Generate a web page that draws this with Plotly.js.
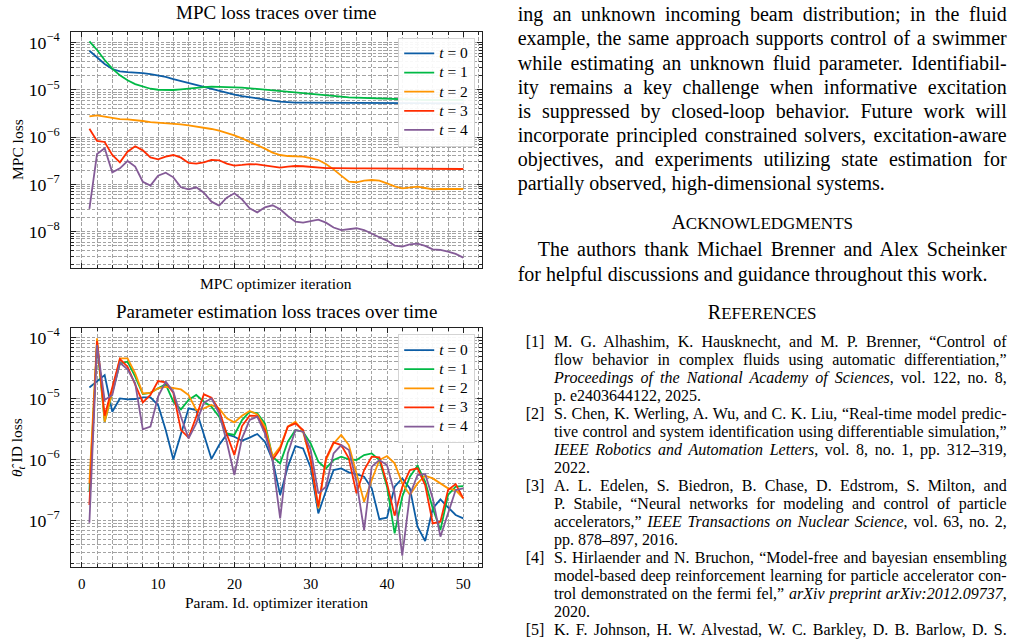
<!DOCTYPE html>
<html>
<head>
<meta charset="utf-8">
<script src="https://cdn.plot.ly/plotly-3.0.1.min.js"></script>
<style>
  html, body { margin: 0; padding: 0; background: #fff; width: 1014px; height: 642px; overflow: hidden; }
  #plots { position: absolute; left: 0; top: 0; width: 505px; height: 642px; }
  .txt { position: absolute; font-family: 'Liberation Serif', 'Times New Roman', serif; color: #000; white-space: nowrap; }
  .body { left: 517.7px; width: 489px; font-size: 20px; line-height: 24px; }
  .indent { left: 537.7px; width: 469px; }
  .head { left: 517.7px; width: 489px; text-align: center; font-size: 20px; line-height: 24px; }
  .head .sc { font-size: 17px; }
  .ref { left: 554px; width: 452.7px; font-size: 16px; line-height: 18px; }
  .lab { left: 525.7px; font-size: 16px; line-height: 18px; }
</style>
</head>
<body>
<div id="plots"></div>

<!-- closing paragraph of the conclusion -->
<div class="txt body j" style="top:2.4px"><span class="c">ing an unknown incoming beam distribution; in the fluid</span></div>
<div class="txt body j" style="top:26.45px"><span class="c">example, the same approach supports control of a swimmer</span></div>
<div class="txt body j" style="top:50.5px"><span class="c">while estimating an unknown fluid parameter. Identifiabil-</span></div>
<div class="txt body j" style="top:74.55px"><span class="c">ity remains a key challenge when informative excitation</span></div>
<div class="txt body j" style="top:98.6px"><span class="c">is suppressed by closed-loop behavior. Future work will</span></div>
<div class="txt body j" style="top:122.65px"><span class="c">incorporate principled constrained solvers, excitation-aware</span></div>
<div class="txt body j" style="top:146.7px"><span class="c">objectives, and experiments utilizing state estimation for</span></div>
<div class="txt body" style="top:170.75px"><span class="c">partially observed, high-dimensional systems.</span></div>

<div class="txt head" style="top:209.5px">A<span class="sc">CKNOWLEDGMENTS</span></div>
<div class="txt body indent j" style="top:237.4px"><span class="c">The authors thank Michael Brenner and Alex Scheinker</span></div>
<div class="txt body" style="top:261.7px"><span class="c">for helpful discussions and guidance throughout this work.</span></div>

<div class="txt head" style="top:300.2px">R<span class="sc">EFERENCES</span></div>

<div class="txt lab" style="top:333.2px">[1]</div>
<div class="txt ref j" style="top:333.2px"><span class="c">M. G. Alhashim, K. Hausknecht, and M. P. Brenner, “Control of</span></div>
<div class="txt ref j" style="top:351.18px"><span class="c">flow behavior in complex fluids using automatic differentiation,”</span></div>
<div class="txt ref j" style="top:369.16px"><span class="c"><i>Proceedings of the National Academy of Sciences</i>, vol. 122, no. 8,</span></div>
<div class="txt ref" style="top:387.14px"><span class="c">p. e2403644122, 2025.</span></div>

<div class="txt lab" style="top:405.12px">[2]</div>
<div class="txt ref j" style="top:405.12px"><span class="c">S. Chen, K. Werling, A. Wu, and C. K. Liu, “Real-time model predic-</span></div>
<div class="txt ref j" style="top:423.1px"><span class="c">tive control and system identification using differentiable simulation,”</span></div>
<div class="txt ref j" style="top:441.08px"><span class="c"><i>IEEE Robotics and Automation Letters</i>, vol. 8, no. 1, pp. 312–319,</span></div>
<div class="txt ref" style="top:459.06px"><span class="c">2022.</span></div>

<div class="txt lab" style="top:477.04px">[3]</div>
<div class="txt ref j" style="top:477.04px"><span class="c">A. L. Edelen, S. Biedron, B. Chase, D. Edstrom, S. Milton, and</span></div>
<div class="txt ref j" style="top:495.02px"><span class="c">P. Stabile, “Neural networks for modeling and control of particle</span></div>
<div class="txt ref j" style="top:513px"><span class="c">accelerators,” <i>IEEE Transactions on Nuclear Science</i>, vol. 63, no. 2,</span></div>
<div class="txt ref" style="top:530.98px"><span class="c">pp. 878–897, 2016.</span></div>

<div class="txt lab" style="top:548.96px">[4]</div>
<div class="txt ref j" style="top:548.96px"><span class="c">S. Hirlaender and N. Bruchon, “Model-free and bayesian ensembling</span></div>
<div class="txt ref j" style="top:566.94px"><span class="c">model-based deep reinforcement learning for particle accelerator con-</span></div>
<div class="txt ref j" style="top:584.92px"><span class="c">trol demonstrated on the fermi fel,” <i>arXiv preprint arXiv:2012.09737</i>,</span></div>
<div class="txt ref" style="top:602.9px"><span class="c">2020.</span></div>

<div class="txt lab" style="top:620.88px">[5]</div>
<div class="txt ref j" style="top:620.88px"><span class="c">K. F. Johnson, H. W. Alvestad, W. C. Barkley, D. B. Barlow, D. S.</span></div>

<script>
// optimizer iteration index shared by both panels
const iterations = [1,2,3,4,5,6,7,8,9,10,11,12,13,14,15,16,17,18,19,20,21,22,23,24,25,
                    26,27,28,29,30,31,32,33,34,35,36,37,38,39,40,41,42,43,44,45,46,47,48,49,50];

// MPC loss per optimizer iteration, one array per time step
const mpcT0 = [6.77e-5,4.90e-5,3.54e-5,2.77e-5,2.47e-5,2.39e-5,2.36e-5,2.28e-5,2.17e-5,2.04e-5,
               1.88e-5,1.70e-5,1.55e-5,1.40e-5,1.27e-5,1.15e-5,1.05e-5,9.48e-6,8.61e-6,7.93e-6,
               7.43e-6,6.97e-6,6.53e-6,6.22e-6,5.92e-6,5.64e-6,5.46e-6,5.37e-6,5.37e-6,5.37e-6,
               5.37e-6,5.37e-6,5.28e-6,5.28e-6,5.28e-6,5.28e-6,5.28e-6,5.28e-6,5.28e-6,5.28e-6,
               5.20e-6,5.20e-6,5.20e-6,5.20e-6,5.20e-6,5.20e-6,5.20e-6,5.20e-6,5.20e-6,5.20e-6];
const mpcT1 = [1.07e-4,7.00e-5,4.30e-5,2.82e-5,2.04e-5,1.60e-5,1.33e-5,1.17e-5,1.06e-5,1.01e-5,
               9.96e-6,9.96e-6,1.03e-5,1.08e-5,1.12e-5,1.15e-5,1.17e-5,1.17e-5,1.15e-5,1.13e-5,
               1.12e-5,1.08e-5,1.05e-5,1.01e-5,9.80e-6,9.48e-6,9.18e-6,8.89e-6,8.61e-6,8.20e-6,
               7.93e-6,7.68e-6,7.43e-6,7.19e-6,6.97e-6,6.86e-6,6.75e-6,6.64e-6,6.53e-6,6.43e-6,
               6.32e-6,6.32e-6,6.22e-6,6.22e-6,6.12e-6,6.12e-6,6.12e-6,6.12e-6,6.12e-6,6.12e-6];
const mpcT2 = [2.76e-6,2.90e-6,2.72e-6,2.55e-6,2.42e-6,2.38e-6,2.31e-6,2.20e-6,2.09e-6,2.03e-6,
               2.00e-6,1.96e-6,1.87e-6,1.78e-6,1.69e-6,1.59e-6,1.49e-6,1.37e-6,1.24e-6,1.09e-6,
               9.44e-7,8.03e-7,6.83e-7,5.71e-7,4.70e-7,4.19e-7,3.99e-7,3.93e-7,3.86e-7,3.62e-7,
               3.29e-7,2.70e-7,2.08e-7,1.53e-7,1.14e-7,1.11e-7,1.20e-7,1.24e-7,1.20e-7,1.05e-7,
               9.10e-8,8.26e-8,8.67e-8,8.96e-8,8.39e-8,7.87e-8,8.00e-8,8.00e-8,8.00e-8,8.00e-8];
const mpcT3 = [1.51e-6,8.30e-7,7.91e-7,4.19e-7,2.93e-7,4.93e-7,6.40e-7,5.26e-7,3.74e-7,3.40e-7,
               3.86e-7,4.19e-7,3.68e-7,2.84e-7,2.75e-7,2.93e-7,3.29e-7,3.24e-7,2.75e-7,2.49e-7,
               2.58e-7,2.70e-7,2.66e-7,2.54e-7,2.34e-7,2.26e-7,2.38e-7,2.45e-7,2.42e-7,2.34e-7,
               2.26e-7,2.22e-7,2.22e-7,2.19e-7,2.19e-7,2.19e-7,2.19e-7,2.19e-7,2.15e-7,2.15e-7,
               2.15e-7,2.15e-7,2.12e-7,2.12e-7,2.12e-7,2.12e-7,2.12e-7,2.12e-7,2.12e-7,2.12e-7];
const mpcT4 = [3.02e-8,4.40e-7,5.81e-7,1.80e-7,2.19e-7,3.13e-7,2.38e-7,1.14e-7,9.42e-8,1.53e-7,
               1.77e-7,1.41e-7,8.67e-8,7.87e-8,8.67e-8,6.68e-8,4.31e-8,3.55e-8,5.25e-8,6.47e-8,
               4.83e-8,3.12e-8,2.56e-8,3.27e-8,3.61e-8,2.97e-8,2.15e-8,1.63e-8,1.55e-8,1.68e-8,
               1.79e-8,1.55e-8,1.22e-8,1.08e-8,1.12e-8,1.18e-8,1.08e-8,8.95e-9,7.59e-9,6.46e-9,
               5.06e-9,4.82e-9,5.40e-9,5.57e-9,4.98e-9,4.23e-9,4.09e-9,3.77e-9,3.37e-9,2.82e-9];

// parameter identification loss per optimizer iteration, one array per time step
const idT0 = [1.53e-5,1.95e-5,2.44e-5,6.12e-6,1.01e-5,9.75e-6,9.88e-6,1.05e-5,1.05e-5,7.87e-6,
              3.06e-6,1.01e-6,2.70e-6,6.94e-6,6.52e-6,2.70e-6,1.03e-6,1.74e-6,2.60e-6,2.38e-6,
              2.05e-6,2.30e-6,2.64e-6,1.97e-6,9.88e-7,2.64e-7,7.68e-7,1.67e-6,1.53e-6,7.40e-7,
              1.32e-7,3.06e-7,6.77e-7,7.21e-7,6.20e-7,5.82e-7,5.26e-7,3.39e-7,1.06e-7,1.12e-7,
              3.61e-7,4.94e-7,3.39e-7,7.97e-8,4.65e-8,1.59e-7,2.24e-7,1.66e-7,1.24e-7,1.09e-7];
const idT1 = [3.00e-7,8.07e-5,4.20e-6,1.22e-5,3.79e-5,4.04e-5,2.30e-5,1.19e-5,1.25e-5,1.48e-5,
              1.72e-5,8.93e-6,6.68e-6,9.51e-6,1.15e-5,8.93e-6,7.40e-6,5.07e-6,2.70e-6,2.54e-6,
              4.47e-6,6.12e-6,5.75e-6,3.94e-6,1.12e-6,8.71e-7,1.97e-6,3.06e-6,2.88e-6,1.85e-6,
              9.28e-7,7.21e-7,9.88e-7,1.12e-6,1.01e-6,9.88e-7,1.19e-6,1.27e-6,9.88e-7,3.61e-7,
              6.20e-8,2.47e-7,5.26e-7,7.97e-7,4.36e-7,1.59e-7,7.03e-8,2.64e-7,3.61e-7,3.70e-7];
const idT2 = [4.09e-7,9.75e-5,4.20e-6,1.30e-5,4.58e-5,4.58e-5,2.60e-5,1.22e-5,1.25e-5,1.48e-5,
              1.57e-5,1.48e-5,1.42e-5,1.15e-5,6.52e-6,6.94e-6,7.87e-6,6.94e-6,4.76e-6,4.09e-6,
              5.26e-6,6.28e-6,5.54e-6,3.48e-6,1.12e-6,1.63e-6,3.48e-6,4.20e-6,2.88e-6,9.88e-7,
              1.59e-7,9.88e-7,1.85e-6,2.54e-6,1.74e-6,5.97e-7,2.05e-7,4.64e-7,9.88e-7,1.15e-6,
              8.71e-7,4.09e-7,2.64e-7,4.09e-7,5.47e-7,4.94e-7,4.09e-7,3.39e-7,3.18e-7,2.32e-7];
const idT3 = [1.81e-7,8.80e-5,5.26e-6,1.57e-5,4.47e-5,3.35e-5,1.67e-5,8.71e-6,1.15e-5,1.95e-5,
              1.85e-5,1.25e-5,3.06e-6,2.30e-6,5.07e-6,1.18e-5,1.04e-5,6.52e-6,2.64e-6,1.19e-6,
              3.56e-6,5.26e-6,5.20e-6,3.06e-6,9.88e-7,1.50e-6,3.48e-6,3.94e-6,3.06e-6,9.88e-7,
              1.70e-7,1.05e-6,1.92e-6,1.74e-6,1.05e-6,2.81e-7,6.77e-7,1.12e-6,1.09e-6,4.09e-7,
              1.21e-7,3.61e-7,6.77e-7,7.21e-7,3.84e-7,9.04e-8,9.63e-8,3.18e-7,3.99e-7,2.32e-7];
const idT4 = [9.27e-8,7.58e-5,9.51e-6,1.15e-5,3.89e-5,3.03e-5,1.78e-5,3.14e-6,3.48e-6,1.08e-5,
              1.90e-5,1.30e-5,5.07e-6,2.24e-6,3.94e-6,8.59e-6,1.01e-5,5.75e-6,1.97e-6,5.61e-7,
              2.24e-6,4.47e-6,5.07e-6,2.70e-6,9.88e-7,1.09e-7,1.27e-6,3.06e-6,2.88e-6,1.44e-6,
              2.81e-7,3.61e-7,1.27e-6,1.74e-6,1.44e-6,4.36e-7,7.03e-8,7.68e-7,9.88e-7,8.18e-7,
              2.81e-7,2.67e-8,2.64e-7,5.61e-7,5.82e-7,2.32e-7,5.47e-8,1.32e-7,3.18e-7,3.39e-7];

const stepLabels = ['<i>t</i> = 0', '<i>t</i> = 1', '<i>t</i> = 2', '<i>t</i> = 3', '<i>t</i> = 4'];

// line colours, one per time step
const stepColors = ['#0C5DA5', '#00B945', '#FF9500', '#FF2C00', '#845B97'];

const SERIF = "'Liberation Serif', 'Times New Roman', serif";
const W = 505, H = 642;
const fx = px => px / W;           // pixel column -> paper x
const fy = px => (H - px) / H;     // pixel row    -> paper y

// legend rows stay compact (row height follows legend.font.size) while the label glyphs are larger
const legendName = k => '<span style="font-size:15.5px">' + stepLabels[k] + '</span>';

const traces = [];
[mpcT0, mpcT1, mpcT2, mpcT3, mpcT4].forEach((ys, k) => traces.push({
  x: iterations, y: ys, type: 'scatter', mode: 'lines', name: legendName(k),
  line: { color: stepColors[k], width: 1.8 }, xaxis: 'x', yaxis: 'y', legend: 'legend'
}));
[idT0, idT1, idT2, idT3, idT4].forEach((ys, k) => traces.push({
  x: iterations, y: ys, type: 'scatter', mode: 'lines', name: legendName(k),
  line: { color: stepColors[k], width: 1.8 }, xaxis: 'x2', yaxis: 'y2', legend: 'legend2'
}));

const GRID = '#a3a3a3';
const DASH = '3.5px,1.8px';
function framed(extra, minor) {
  return Object.assign({
    showline: true, linecolor: '#222', linewidth: 1.2, mirror: 'allticks',
    ticks: 'inside', ticklen: 5, tickwidth: 1, tickcolor: '#222',
    showgrid: true, gridcolor: GRID, gridwidth: 1, griddash: DASH,
    zeroline: false, automargin: false, fixedrange: true,
    tickfont: { family: SERIF, size: 15, color: '#000' },
    minor: Object.assign({ ticks: 'inside', ticklen: 3, tickwidth: 1, tickcolor: '#222',
                           showgrid: true, gridcolor: GRID, gridwidth: 1, griddash: DASH }, minor)
  }, extra);
}

const xDomain = [fx(70.7), fx(482)];
const xRange = [-1.45, 52.45];
const yTickFont = { family: SERIF, size: 14.2, color: '#000' };

const legendStyle = {
  xref: 'paper', yref: 'paper', xanchor: 'right', yanchor: 'top',
  bgcolor: 'rgba(255,255,255,0.92)', bordercolor: '#d4d4d4', borderwidth: 1.2,
  font: { family: SERIF, size: 12.4, color: '#000' }, tracegroupgap: 0
};

const layout = {
  width: W, height: H,
  margin: { l: 0, r: 0, t: 0, b: 0 },
  paper_bgcolor: '#fff', plot_bgcolor: '#fff',
  font: { family: SERIF, color: '#000' },
  showlegend: true,
  xaxis: framed({ domain: xDomain, range: xRange, anchor: 'y', dtick: 10, tick0: 0, showticklabels: false },
                { dtick: 2, tick0: 0 }),
  yaxis: framed({ domain: [fy(268), fy(31.7)], type: 'log', range: [-8.77, -3.767], anchor: 'x',
                  dtick: 1, exponentformat: 'power', ticklabelstandoff: 7, tickfont: yTickFont }, { dtick: 'D1' }),
  xaxis2: framed({ domain: xDomain, range: xRange, anchor: 'y2', dtick: 10, tick0: 0, ticklabelstandoff: 3 },
                 { dtick: 2, tick0: 0 }),
  yaxis2: framed({ domain: [fy(566.7), fy(328.3)], type: 'log', range: [-7.754, -3.846], anchor: 'x2',
                   dtick: 1, exponentformat: 'power', ticklabelstandoff: 7, tickfont: yTickFont }, { dtick: 'D1' }),
  legend: Object.assign({ x: fx(475), y: fy(37.7) }, legendStyle),
  legend2: Object.assign({ x: fx(475), y: fy(334.3) }, legendStyle),
  annotations: [
    { text: 'MPC loss traces over time', x: fx(276.3), y: fy(13), xref: 'paper', yref: 'paper',
      xanchor: 'center', yanchor: 'middle', showarrow: false, font: { family: SERIF, size: 19, color: '#000' } },
    { text: 'MPC optimizer iteration', x: fx(276.3), y: fy(283), xref: 'paper', yref: 'paper',
      xanchor: 'center', yanchor: 'middle', showarrow: false, font: { family: SERIF, size: 15.5, color: '#000' } },
    { text: 'MPC loss', x: fx(17), y: fy(150), xref: 'paper', yref: 'paper', textangle: -90,
      xanchor: 'center', yanchor: 'middle', showarrow: false, font: { family: SERIF, size: 15.5, color: '#000' } },
    { text: 'Parameter estimation loss traces over time', x: fx(276.3), y: fy(311), xref: 'paper', yref: 'paper',
      xanchor: 'center', yanchor: 'middle', showarrow: false, font: { family: SERIF, size: 19, color: '#000' } },
    { text: 'Param. Id. optimizer iteration', x: fx(276.3), y: fy(602), xref: 'paper', yref: 'paper',
      xanchor: 'center', yanchor: 'middle', showarrow: false, font: { family: SERIF, size: 15.5, color: '#000' } },
    { text: '<i>θ̂</i><sub><i>t</i></sub> ID loss', x: fx(17), y: fy(448), xref: 'paper', yref: 'paper', textangle: -90,
      xanchor: 'center', yanchor: 'middle', showarrow: false, font: { family: SERIF, size: 15.5, color: '#000' } }
  ]
};

Plotly.newPlot('plots', traces, layout, { staticPlot: true, displayModeBar: false });

// spread the words of each full-width line across the column
function justifyLines() {
  document.querySelectorAll('.j').forEach(el => {
    const span = el.querySelector('span.c');
    el.style.wordSpacing = '0px';
    const natural = span.getBoundingClientRect().width;
    const target = el.getBoundingClientRect().width;
    const gaps = (span.textContent.match(/ /g) || []).length;
    if (gaps > 0) el.style.wordSpacing = ((target - natural) / gaps) + 'px';
  });
}
justifyLines();
if (document.fonts && document.fonts.ready) document.fonts.ready.then(justifyLines);
</script>
</body>
</html>
